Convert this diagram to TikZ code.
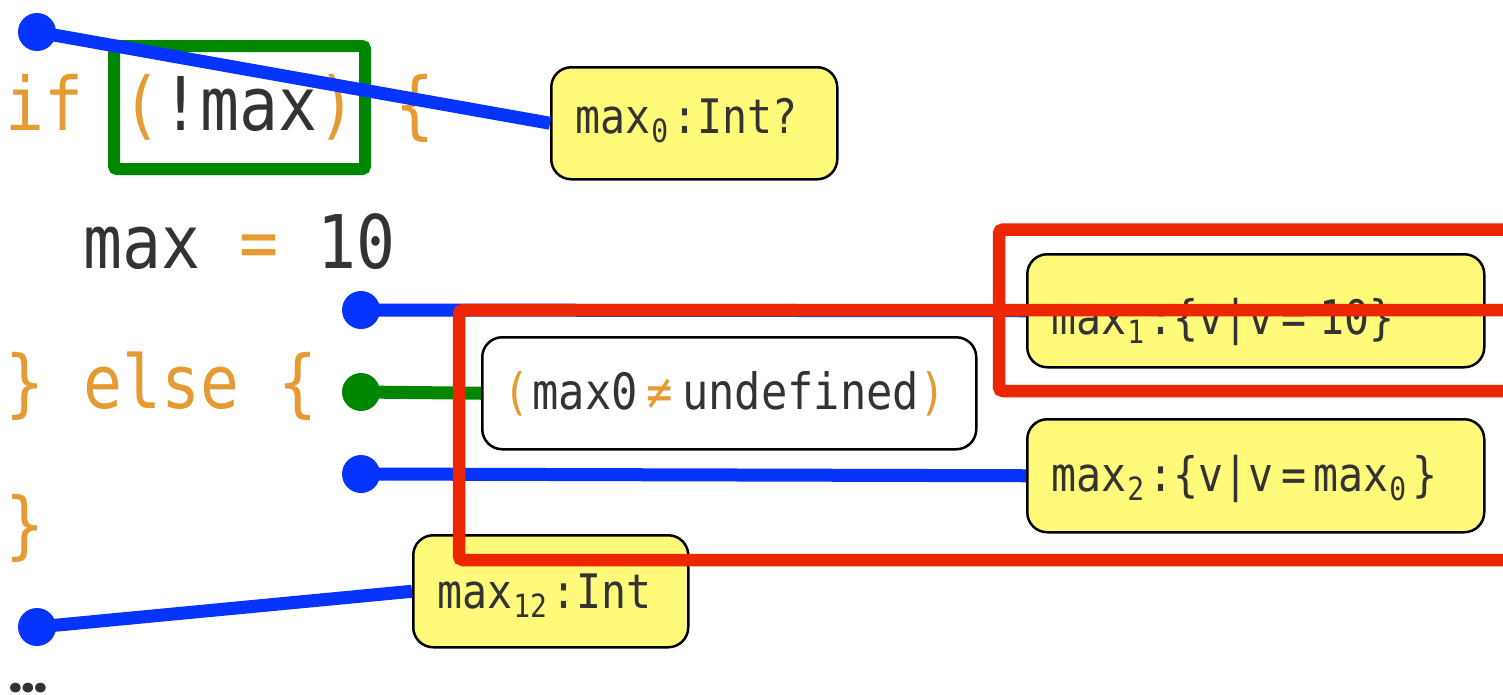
\documentclass[tikz,border=0pt]{standalone}
\usepackage{fontspec}
\newfontfamily\codefont[FakeStretch=0.875]{DejaVu Sans Mono}
\newfontfamily\dotfont{Poppins}

\definecolor{kw}{RGB}{230,155,50}
\definecolor{ink}{RGB}{51,51,51}
\definecolor{pinblue}{RGB}{5,51,255}
\definecolor{pingreen}{RGB}{0,135,0}
\definecolor{hlred}{RGB}{235,38,0}
\definecolor{tagfill}{RGB}{255,250,122}

% one character cell of the monospaced font
\newcommand\gap{\phantom{0}}
\newcommand\codesize{\fontsize{74}{80}\selectfont}
\newcommand\tagsize{\fontsize{47.5}{52}\selectfont}
\newcommand\condsize{\fontsize{50}{55}\selectfont}
\newcommand\subtag[1]{\kern1pt\raisebox{-9pt}{\fontsize{32}{34}\selectfont #1}\kern4pt}

\tikzset{
  code/.style={anchor=base west, inner sep=0pt, font=\codefont\codesize, text=ink},
  tag/.style={draw=black, line width=2.5pt, rounded corners=20pt, fill=tagfill,
    anchor=north west, inner xsep=24pt, inner ysep=0pt, align=left,
    text=ink, font=\codefont\tagsize},
  cond/.style={tag, fill=white, inner xsep=21pt, font=\codefont\condsize},
  pinhead/.style={circle, fill=#1, draw=none, inner sep=0pt, minimum size=38pt},
  wire/.style={line width=13pt, draw=#1},
  region/.style={line width=12.5pt, draw=hlred, rounded corners=4pt},
}

\begin{document}
\begin{tikzpicture}[x=1pt, y=-1pt]
\useasboundingbox (0,0) rectangle (1503,694);
\clip (0,0) rectangle (1503,694);
\fill[white] (0,0) rectangle (1503,694);

% source lines
\node[code] (l1) at (5,130) {{\color{kw}if\gap(}!max{\color{kw})\gap\{}};
\node[code] (l2) at (5,268) {\gap\gap max\gap{\color{kw}=}\gap 10};
\node[code] (l3) at (5,408) {{\color{kw}\}\gap else\gap\{}};
\node[code] (l4) at (5,550) {{\color{kw}\}}};
\node[code, font=\dotfont\bfseries\fontsize{52}{54}\selectfont] (l5) at (8,692) {…};

% condition frame
\draw[line width=12pt, pingreen, rounded corners=3pt] (114,46) rectangle (365,169);

% type annotations
\node[tag, text width=238pt, text height=66pt, text depth=46pt] (t0) at (550,66)
  {max\subtag{0}:Int?};
\node[tag, text width=409pt, text height=80pt, text depth=33pt] (t1) at (1026,253)
  {max\subtag{1}:\{v|v\kern8pt=\kern13pt 10\}};
\node[tag, text width=409pt, text height=72pt, text depth=41pt] (t2) at (1026,418)
  {max\subtag{2}:\{v|v\kern8pt=\kern7pt max\subtag{0}\kern2pt\}};
\node[tag, text width=227pt, text height=73pt, text depth=39pt] (t12) at (412,534)
  {max\subtag{12}:Int};
\node[cond, text width=452pt, text height=72pt, text depth=40pt] (c) at (481,336)
  {{\color{kw}(}\kern3pt max0\kern9pt{\color{kw}≠}\kern9pt undefined{\color{kw})}};

% program points
\node[pinhead=pinblue]  (pA) at (37,32)   {};
\node[pinhead=pinblue]  (pB) at (361,310) {};
\node[pinhead=pingreen] (pC) at (361,392) {};
\node[pinhead=pinblue]  (pD) at (361,474) {};
\node[pinhead=pinblue]  (pE) at (37,627)  {};

% wires from each point to its annotation
\draw[wire=pinblue]  (pA.center) -- (t0.west);
\draw[wire=pinblue]  (pB.center) -- (t1.west);
\draw[wire=pingreen] (pC.center) -- (c.west);
\draw[wire=pinblue]  (pD.center) -- (t2.west);
\draw[wire=pinblue]  (pE.center) -- (t12.west);

% highlighted regions
\draw[region] (1530,229.5) -| (999,391) -- (1530,391);
\draw[region] (1530,310) -| (459,560) -- (1530,560);
\end{tikzpicture}
\end{document}
